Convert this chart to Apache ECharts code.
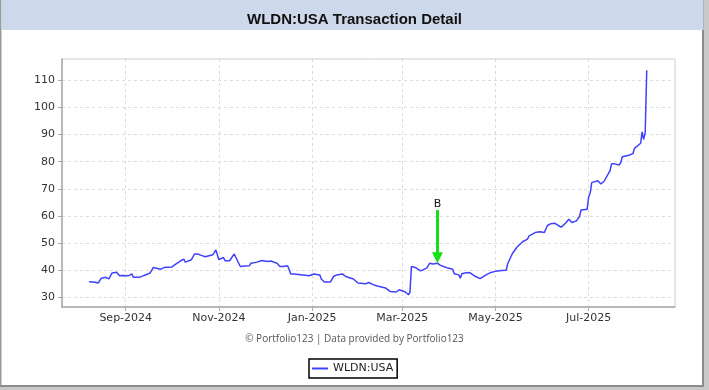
<!DOCTYPE html>
<html>
<head>
<meta charset="utf-8">
<script src="https://cdn.jsdelivr.net/npm/echarts@6/dist/echarts.min.js"></script>
<style>
html,body{margin:0;padding:0;background:#c9c9c9;}
#chart{width:709px;height:390px;}
</style>
</head>
<body>
<div id="chart"></div>
<script>
// ---- data ----
const titleText = 'WLDN:USA Transaction Detail';
const seriesName = 'WLDN:USA';
const footerText = '\u00A9 Portfolio123 | Data provided by Portfolio123';

const dates = [
'2024-08-08','2024-08-12','2024-08-14','2024-08-16','2024-08-19','2024-08-21','2024-08-22','2024-08-23','2024-08-26','2024-08-27',
'2024-08-28','2024-08-30','2024-09-03','2024-09-05','2024-09-06','2024-09-10','2024-09-13','2024-09-17','2024-09-18','2024-09-19',
'2024-09-20','2024-09-24','2024-09-26','2024-10-01','2024-10-03','2024-10-04','2024-10-07','2024-10-09','2024-10-10','2024-10-14',
'2024-10-16','2024-10-18','2024-10-21','2024-10-23','2024-10-24','2024-10-28','2024-10-30','2024-10-31','2024-11-01','2024-11-04',
'2024-11-05','2024-11-08','2024-11-11','2024-11-12','2024-11-15','2024-11-18','2024-11-19','2024-11-21','2024-11-22','2024-11-26',
'2024-11-29','2024-12-03','2024-12-05','2024-12-09','2024-12-11','2024-12-13','2024-12-16','2024-12-18','2024-12-20','2024-12-26',
'2024-12-30','2025-01-02','2025-01-06','2025-01-07','2025-01-09','2025-01-13','2025-01-14','2025-01-15','2025-01-17','2025-01-21',
'2025-01-23','2025-01-24','2025-01-28','2025-01-31','2025-02-05','2025-02-07','2025-02-10','2025-02-11','2025-02-12','2025-02-14',
'2025-02-18','2025-02-21','2025-02-25','2025-02-27','2025-03-03','2025-03-05','2025-03-06','2025-03-07','2025-03-10','2025-03-13',
'2025-03-17','2025-03-19','2025-03-21','2025-03-24','2025-03-26','2025-03-28','2025-03-31','2025-04-03','2025-04-04','2025-04-07',
'2025-04-08','2025-04-09','2025-04-11','2025-04-14','2025-04-17','2025-04-21','2025-04-24','2025-04-28','2025-05-01','2025-05-05',
'2025-05-08','2025-05-09','2025-05-12','2025-05-15','2025-05-19','2025-05-22','2025-05-23','2025-05-27','2025-05-30','2025-06-02',
'2025-06-04','2025-06-05','2025-06-06','2025-06-09','2025-06-11','2025-06-13','2025-06-16','2025-06-18','2025-06-20','2025-06-23',
'2025-06-25','2025-06-26','2025-06-30','2025-07-01','2025-07-02','2025-07-03','2025-07-07','2025-07-08','2025-07-09','2025-07-11',
'2025-07-14','2025-07-15','2025-07-16','2025-07-18','2025-07-21','2025-07-22','2025-07-23','2025-07-28','2025-07-29','2025-07-30',
'2025-07-31','2025-08-01','2025-08-04','2025-08-05','2025-08-06','2025-08-07','2025-08-08'
];
const prices = [
35.8,35.6,35.3,37.1,37.4,36.8,36.5,39.0,39.3,39.2,
38.0,38.1,38.0,38.7,37.4,37.4,38.1,39.0,38.7,41.0,
40.4,40.4,41.0,41.2,42.0,41.6,43.5,44.1,43.0,43.9,
46.0,46.0,45.4,45.0,44.5,45.7,47.5,47.4,43.9,44.7,
43.5,43.5,46.0,45.3,41.4,41.6,42.0,41.7,42.6,43.0,
43.6,43.2,43.4,42.6,41.4,41.4,41.7,38.6,38.6,38.3,
38.0,38.6,38.3,36.8,35.7,35.7,36.0,37.7,38.3,38.6,
37.7,37.4,36.8,35.3,35.0,35.5,34.7,34.9,34.3,34.0,
33.5,32.2,32.0,32.8,32.0,31.0,31.8,41.4,40.9,39.8,
40.8,42.6,42.3,42.6,41.8,41.4,40.8,40.4,38.7,38.3,
37.1,38.7,39.0,39.2,38.0,36.9,38.0,39.2,39.6,39.9,
40.0,42.4,46.1,48.5,50.6,51.5,52.7,53.9,54.2,53.9,
56.5,56.2,57.1,57.3,56.5,55.9,57.4,58.8,57.6,58.2,
59.8,62.2,62.5,67.1,68.4,72.3,73.0,73.2,71.8,72.7,
75.7,76.7,79.2,79.2,78.8,79.7,81.8,82.5,83.1,83.0,
84.9,84.5,86.8,91.0,88.2,90.7,113.7
];

// transaction marker
const markerDate = '2025-03-24';
const markerLabel = 'B';
const markerTop = 62.2;
const markerEnd = 44.6;

// axes
const xTickDates = ['2024-09-01','2024-11-01','2025-01-01','2025-03-01','2025-05-01','2025-07-01'];
const monthNames = ['Jan','Feb','Mar','Apr','May','Jun','Jul','Aug','Sep','Oct','Nov','Dec'];
const xMinDate = '2024-07-21 07:00';
const xMaxDate = '2025-08-26 12:00';
const yTicks = [30,40,50,60,70,80,90,100,110];
const yMin = 26.47;
const yMax = 117.83;

// ---- helpers ----
function ts(s){
  const parts = s.split(' ');
  const ymd = parts[0].split('-').map(Number);
  let h = 0;
  if (parts[1]) h = Number(parts[1].split(':')[0]);
  return new Date(ymd[0], ymd[1]-1, ymd[2], h).getTime();
}

const seriesData = dates.map((d,i)=>[ts(d), prices[i]]);
const xTicks = xTickDates.map(ts);

const chart = echarts.init(document.getElementById('chart'), null, {renderer:'canvas'});
const option = {
  animation:false,
  backgroundColor:'#c9c9c9',
  graphic:[
    {type:'rect', z:-10, shape:{x:0,y:0,width:704,height:387}, style:{fill:'#8c8c8c'}},
    {type:'rect', z:-10, shape:{x:0,y:0,width:702,height:385}, style:{fill:'#ffffff'}},
    {type:'rect', z:-10, shape:{x:0,y:0,width:1.5,height:385}, style:{fill:'#9a9a9a'}},
    {type:'rect', z:-10, shape:{x:1.5,y:0,width:702,height:30}, style:{fill:'#cdd9ea'}},
    {type:'text', z:10, left:'center', top:334,
      style:{text:footerText, fill:'#555', font:'10px "Open Sans"'}}
  ],
  title:{
    text:titleText, left:'center', top:7,
    textStyle:{fontFamily:'Liberation Sans', fontWeight:'bold', fontSize:15, color:'#111'}
  },
  legend:{
    left:309, top:359,
    data:[{name:seriesName, icon:'rect'}],
    itemWidth:16, itemHeight:2, itemGap:5,
    padding:[4,4,4,3],
    borderColor:'#000', borderWidth:1.5, backgroundColor:'#fff',
    textStyle:{fontFamily:'DejaVu Sans', fontSize:11, color:'#222'}
  },
  grid:{
    left:62, top:59, right:34, bottom:83,
    show:true, borderColor:'#cfcfcf', borderWidth:1, backgroundColor:'#fff',
    containLabel:false
  },
  xAxis:{
    type:'value',
    min:ts(xMinDate), max:ts(xMaxDate),
    axisLine:{lineStyle:{color:'#aaa', width:1.5}},
    axisTick:{show:true, length:4, lineStyle:{color:'#aaa'}, customValues:xTicks},
    axisLabel:{
      customValues:xTicks,
      fontFamily:'DejaVu Sans', fontSize:11, color:'#333', margin:6,
      formatter:function(v){ const d=new Date(v); return monthNames[d.getMonth()]+'-'+d.getFullYear(); }
    },
    splitLine:{show:true, lineStyle:{color:'#dcdcdc', type:[3,3]}}
  },
  yAxis:{
    type:'value',
    min:yMin, max:yMax,
    axisLine:{show:true, lineStyle:{color:'#aaa', width:1.5}},
    axisTick:{show:true, length:4, lineStyle:{color:'#aaa'}, customValues:yTicks},
    axisLabel:{customValues:yTicks, fontFamily:'DejaVu Sans', fontSize:11, color:'#333', margin:7},
    splitLine:{show:true, lineStyle:{color:'#dcdcdc', type:[3,3]}}
  },
  series:[{
    name:seriesName,
    type:'line',
    data:seriesData,
    showSymbol:false,
    symbol:'none',
    lineStyle:{color:'#4040ff', width:1.5},
    itemStyle:{color:'#4040ff'},
    markLine:{
      silent:true,
      symbol:['none','triangle'],
      symbolSize:[11,11],
      lineStyle:{color:'#14e014', width:3, type:'solid'},
      label:{show:true, position:'start', formatter:markerLabel, color:'#111',
             fontFamily:'DejaVu Sans', fontSize:11, distance:0},
      data:[[{coord:[ts(markerDate), markerTop]},{coord:[ts(markerDate), markerEnd]}]]
    }
  }]
};
chart.setOption(option);
</script>
</body>
</html>
